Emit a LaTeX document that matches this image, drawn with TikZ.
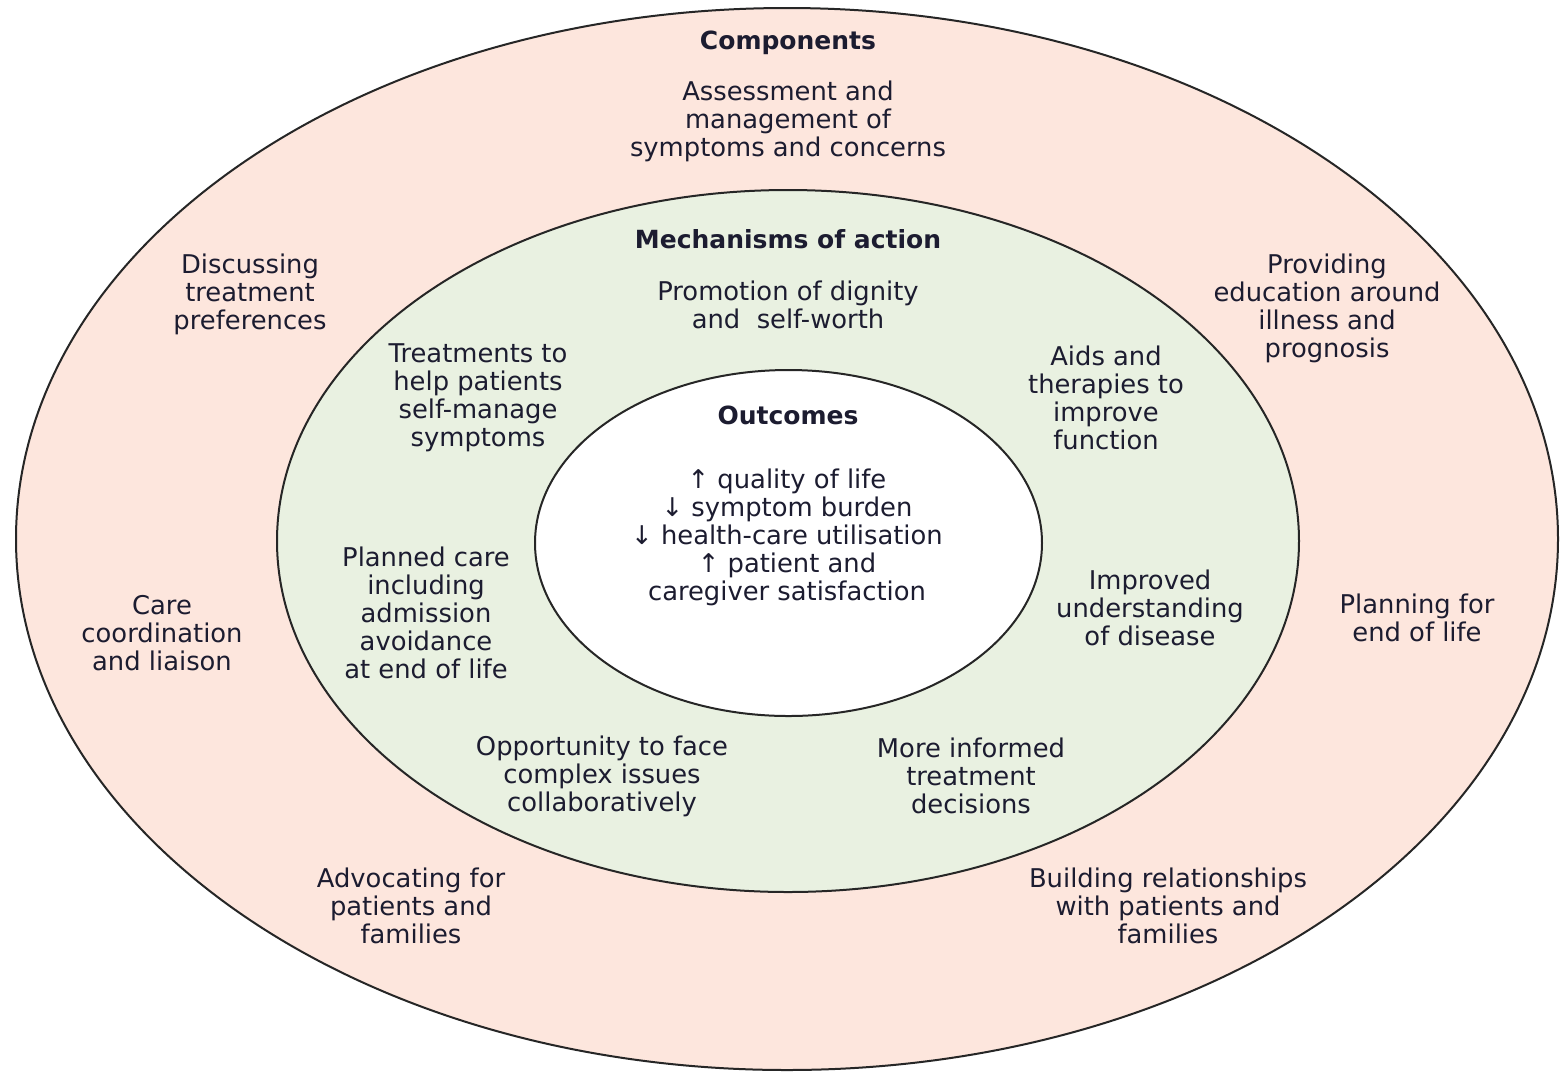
\documentclass[tikz,border=0pt]{standalone}
\usepackage{fontspec}
\setmainfont{DejaVu Sans}
\definecolor{outerfill}{RGB}{253,230,221}
\definecolor{midfill}{RGB}{233,241,225}
\definecolor{txt}{RGB}{28,28,48}
\begin{document}
\begin{tikzpicture}[x=0.5pt,y=-0.5pt,
  lbl/.style={align=center,text=txt,font=\fontsize{12.9}{14}\selectfont,inner sep=0pt},
  ttl/.style={lbl,font=\fontsize{12.5}{14}\selectfont\bfseries},
  ring/.style={draw=black!85,line width=1pt}]
\useasboundingbox (0,0) rectangle (1560,1073);
\fill[white] (0,0) rectangle (1560,1073);
\draw[ring,fill=outerfill] (787,539) ellipse [x radius=771, y radius=531];
\draw[ring,fill=midfill] (788,541) ellipse [x radius=511, y radius=351];
\draw[ring,fill=white] (788.5,543) ellipse [x radius=253.5, y radius=173];

% Components
\node[ttl] (comp) at (788,43) {Components};
\node[lbl] (c1) at (788,121) {Assessment and\\management of\\symptoms and concerns};
\node[lbl] (c2) at (250,294) {Discussing\\treatment\\preferences};
\node[lbl] (c3) at (1327,308) {Providing\\education around\\illness and\\prognosis};
\node[lbl] (c4) at (162,633) {Care\\coordination\\and liaison};
\node[lbl] (c5) at (1417,618) {Planning for\\end of life};
\node[lbl] (c6) at (411,906) {Advocating for\\patients and\\families};
\node[lbl] (c7) at (1168,906) {Building relationships\\with patients and\\families};

% Mechanisms
\node[ttl] (mech) at (788,239) {Mechanisms of action};
\node[lbl] (m1) at (788,305) {Promotion of dignity\\and~ self-worth};
\node[lbl] (m2) at (478,398) {Treatments to\\help patients\\self-manage\\symptoms};
\node[lbl] (m3) at (1106,398) {Aids and\\therapies to\\improve\\function};
\node[lbl] (m4) at (426,613) {Planned care\\including\\admission\\avoidance\\at end of life};
\node[lbl] (m5) at (1150,608) {Improved\\understanding\\of disease};
\node[lbl] (m6) at (602,776) {Opportunity to face\\complex issues\\collaboratively};
\node[lbl] (m7) at (971,776) {More informed\\treatment\\decisions};

% Outcomes
\node[ttl] (out) at (788,415) {Outcomes};
\node[lbl] (o1) at (787,537) {↑ quality of life\\↓ symptom burden\\↓ health-care utilisation\\↑ patient and\\caregiver satisfaction};
\end{tikzpicture}
\end{document}
